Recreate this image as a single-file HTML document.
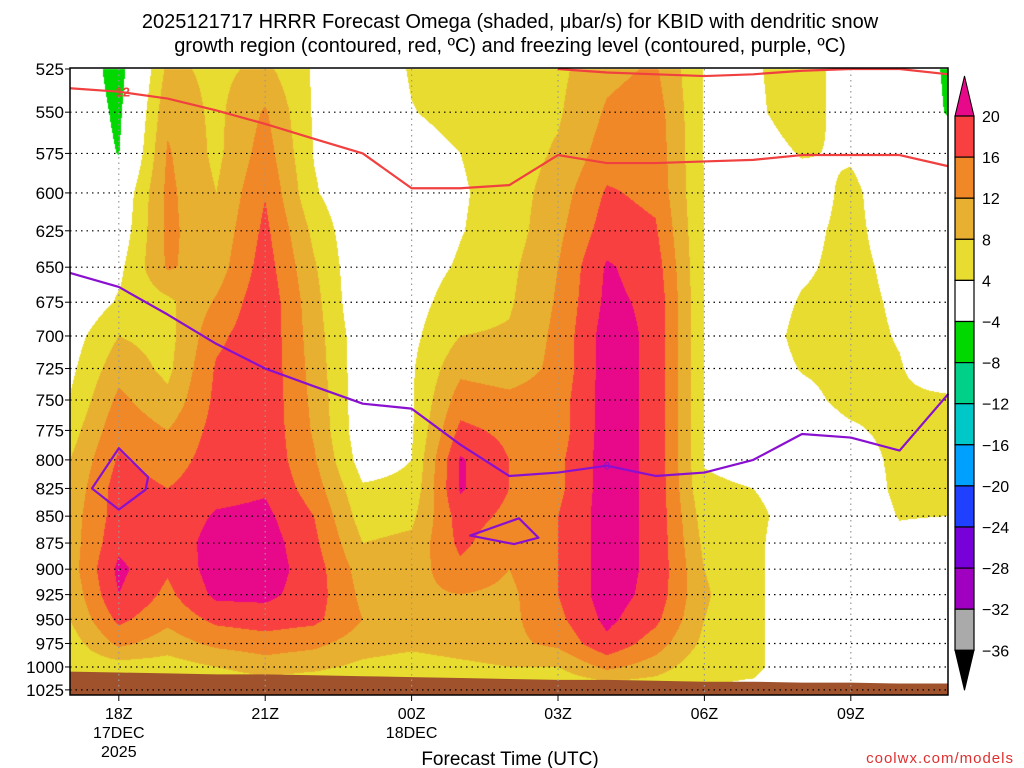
<!DOCTYPE html>
<html><head><meta charset="utf-8">
<style>
html,body{margin:0;padding:0;background:#fff;width:1024px;height:768px;overflow:hidden}
#wrap{position:relative;width:1024px;height:768px}
canvas{position:absolute;left:0;top:0}
svg{position:absolute;left:0;top:0}
text{font-family:"Liberation Sans",sans-serif}
</style></head>
<body>
<div id="wrap">
<canvas id="field" width="1024" height="768"></canvas>
<svg id="ov" width="1024" height="768"></svg>
</div>
<script>
// hours since 17Z, columns; values at levels 525..1025 step 25 (microbar/s)
const levels=[525,550,575,600,625,650,675,700,725,750,775,800,825,850,875,900,925,950,975,1000,1025];
const omega=[
[0,0,0,0,0,0,0,2,3,4.2,6,8,9,10,10,10,9,8,6,5,3],
[-6,-5,-4.2,0,1,3,4.5,8,10.5,13,15,16.5,18,18,19,21,20,17,13,6,3],
[9,11,12.5,13,13,12.5,7,6.5,7,9,12,14,16,17,17,16.5,15,13,10,6,4],
[7,7,7,8,9,10,12.5,15,16.5,17,17.5,18,18.5,20.5,22,22,21,17,13,8,4],
[9,12.5,14,15.8,17,18,19,19,19,19,19,19,19.5,21,22,22,21,18,14,10,5],
[3.5,3.5,3.8,4.5,7,8.5,9.5,10,10.5,11,11.5,12.5,14,16,17,18,18,17,13,9,4],
[0,0,0,0,0,0,0,1,1,1,1,2,4.5,6,8,10,11,12,10,7,4],
[4.5,3.8,2,1,1,2,2.5,3,3.5,3.5,3.5,4,5,7,9,10,11,11,9,6,4],
[6,5.5,4,3.5,3.8,4.5,6,8,11,14,17,20.5,20.5,18,17,15,12,11,10,7,4],
[7,7,6,6,6,7,7.5,8.5,10,13,15,16,16,15,13,12,11,11,11,8,4],
[7,7.5,8.5,10,11,12,12.5,13,13,14,14,15,15,16,16,16,16,15,13,8,4],
[11,12.5,14,16.5,18,20.5,21,22,22,22,22,22,22,22,22,22,22,21,19,13,5],
[12.5,14,14.5,15,16.5,18,19,19,19,19,19,19,19,19,19,19,18.5,17,14,10,5],
[3.8,3.8,3.8,3.8,3.8,3.8,3.8,3.8,3.8,3.8,3.8,3.8,4.5,6,7,8,8.5,8,7,5,4],
[3.5,3.2,2,2,2,2,2,2,2,2,3,3,4,5,5,5,5,5,5,5,3],
[6,6,4.3,2,3,3.5,4.3,5,4.2,3,2,2,2,2,1,1,1,1,1,1,1],
[2,2,3.5,5,5,5,5,5,5,5,3.5,2,1,1,1,1,1,1,1,1,1],
[1,1,1,1,2,3,3.5,3.8,4.2,4.5,5,5,5,4.2,3,1,1,1,1,1,1],
[-5,-4.5,0,1,1,1,1,1,2,4.5,5,5,5,4,2,1,1,1,1,1,1]
];
const hours=[0,1,2,3,4,5,6,7,8,9,10,11,12,13,14,15,16,17,18];
const dgzP=[536,538,542,549,557,566,575,597,597,595,576,581,581,580,579,576,576,576,583];
const dgzTopH=[10,11,12,13,14,15,16,17,18];
const dgzTopP=[525,527,528,529,528,526,525,525,528];
const frzP=[654,664,684,706,725,739,753,757,787,814,811,805,814,811,800,778,781,792,745];
const loop1H=[0.45,1,1.6,1.55,1,0.45], loop1P=[825,790,815,826,844,825];
const loop2H=[8.2,9.2,9.6,9.1,8.2], loop2P=[868,852,870,876,868];
const sfcP=[1005,1006,1007,1008,1008,1009,1010,1011,1012,1013,1014,1014,1015,1016,1016,1017,1017,1018,1018];
const yTicks=[525,550,575,600,625,650,675,700,725,750,775,800,825,850,875,900,925,950,975,1000,1025];
const xTickH=[1,4,7,10,13,16];
const xTickLab=["18Z","21Z","00Z","03Z","06Z","09Z"];
const cbLabels=["20","16","12","8","4","\u22124","\u22128","\u221212","\u221216","\u221220","\u221224","\u221228","\u221232","\u221236"];
const cbColors=["#f84040","#f08828","#e8b030","#e8dc30","#ffffff","#00d800","#00d088","#00c8c8","#00a0ff","#2040ff","#7800d8","#a000c0","#aaaaaa"];

const X0=70,X1=948,Y0=69,Y1=695,PXH=48.8,PXL=928;
function xs(h){return X0+h*PXH;}
function ys(p){return Y0+Math.log(p/525)*PXL;}
function colorFor(v){
 if(v>=20)return[232,8,138];if(v>=16)return[248,64,64];if(v>=12)return[240,136,40];
 if(v>=8)return[232,176,48];if(v>=4)return[232,220,48];if(v>-4)return[255,255,255];
 if(v>-8)return[0,216,0];return[0,208,136];}
// field
(function(){
 const c=document.getElementById('field'),ctx=c.getContext('2d');
 const w=X1-X0,h=Y1-Y0;const img=ctx.createImageData(w,h);
 for(let j=0;j<h;j++){const p=525*Math.exp((j+0.5)/PXL);let li=(p-525)/25;li=Math.max(0,Math.min(19.999,li));
  const l0=Math.floor(li),fl=li-l0;
  for(let i=0;i<w;i++){let hh=(i+0.5)/PXH;hh=Math.max(0,Math.min(17.999,hh));const h0=Math.floor(hh),fh=hh-h0;
   const v=(omega[h0][l0]*(1-fh)+omega[h0+1][l0]*fh)*(1-fl)+(omega[h0][l0+1]*(1-fh)+omega[h0+1][l0+1]*fh)*fl;
   const col=colorFor(v);const k=(j*w+i)*4;img.data[k]=col[0];img.data[k+1]=col[1];img.data[k+2]=col[2];img.data[k+3]=255;}}
 ctx.putImageData(img,X0,Y0);
})();
const NS="http://www.w3.org/2000/svg",ov=document.getElementById('ov');
function mk(t,a,parent){const e=document.createElementNS(NS,t);for(const k in a)e.setAttribute(k,a[k]);(parent||ov).appendChild(e);return e;}
// ground
{let d="M"+xs(0)+","+ys(sfcP[0]);hours.forEach((h,i)=>{d+=" L"+xs(h)+","+ys(sfcP[i]);});d+=" L"+X1+","+Y1+" L"+X0+","+Y1+"Z";
 const g=mk('path',{d:d,fill:'#a0522d'});
 
 }
// grid
yTicks.forEach(p=>{const y=ys(p);if(y>Y0+2&&y<Y1-2){const l=mk('line',{x1:X0,x2:X1,y1:y,y2:y,stroke:'#000','stroke-width':1.2,'stroke-dasharray':'1.5,4'});
 
 }});
xTickH.forEach(h=>{const l=mk('line',{x1:xs(h),x2:xs(h),y1:Y0,y2:Y1,stroke:'#999','stroke-width':1.2,'stroke-dasharray':'1.5,4'});
 
 });
// lines
function poly(H,P,col,name,close){let d="";H.forEach((h,i)=>{d+=(i?" L":"M")+xs(h)+","+ys(P[i]);});if(close)d+="Z";
 const e=mk('path',{d:d,fill:'none',stroke:col,'stroke-width':2.2,'stroke-linejoin':'round'});
 
 return e;}
poly(hours,dgzP,'#f04040','dgz-minus12-contour');
poly(dgzTopH,dgzTopP,'#f04040','dgz-upper-contour');
poly(hours,frzP,'#8a10d0','freezing-level-contour');
poly(loop1H,loop1P,'#8a10d0','freezing-loop-left',true);
poly(loop2H,loop2P,'#8a10d0','freezing-loop-center',true);
{const t=mk('text',{x:xs(1)+4,y:ys(dgzP[1])+5,'font-size':13,'font-weight':'bold',fill:'#f04040','text-anchor':'middle'});t.textContent='12';
 
 }
{const t=mk('text',{x:xs(11),y:ys(frzP[11])+4,'font-size':11,fill:'#8a10d0','text-anchor':'middle'});t.textContent='0';
 
 }
// frame
{const r=mk('rect',{x:X0,y:Y0-1,width:X1-X0,height:Y1-Y0+1,fill:'none',stroke:'#000','stroke-width':1.5});
 
 }
// y ticks
yTicks.forEach(p=>{const y=ys(p);mk('line',{x1:X0-5,x2:X0,y1:y,y2:y,stroke:'#000'});
 const t=mk('text',{x:X0-6,y:y+6,'font-size':17,'text-anchor':'end',fill:'#000'});t.textContent=p;
 
 });
xTickH.forEach((h,i)=>{const x=xs(h);mk('line',{x1:x,x2:x,y1:Y1,y2:Y1+6,stroke:'#000'});
 const t=mk('text',{x:x,y:719,'font-size':16,'text-anchor':'middle',fill:'#000'});t.textContent=xTickLab[i];
 
 });
[["17DEC",1,738],["2025",1,757],["18DEC",7,738]].forEach(a=>{const t=mk('text',{x:xs(a[1]),y:a[2],'font-size':16,'text-anchor':'middle',fill:'#000'});t.textContent=a[0];
 
 });
{const t=mk('text',{x:510,y:765,'font-size':19,'text-anchor':'middle',fill:'#000'});t.textContent='Forecast Time (UTC)';
 
 }
{const t=mk('text',{x:1014,y:763,'font-size':15,'text-anchor':'end',fill:'#e03030','letter-spacing':'1'});t.textContent='coolwx.com/models';
 
 }
["2025121717 HRRR Forecast Omega (shaded, \u03bcbar/s) for KBID with dendritic snow","growth region (contoured, red, \u00baC) and freezing level (contoured, purple, \u00baC)"].forEach((s,i)=>{
 const t=mk('text',{x:510,y:28+i*24,'font-size':20,'text-anchor':'middle',fill:'#000'});t.textContent=s;
 
 });
// colorbar
const CBX=955,CBW=19,CBT=116,CBS=41.1;
{const tri=mk('path',{d:`M${CBX},${CBT} L${CBX+CBW/2},${CBT-40} L${CBX+CBW},${CBT}Z`,fill:'#e8088a',stroke:'#000'});
 
 }
cbColors.forEach((c,i)=>{const r=mk('rect',{x:CBX,y:CBT+i*CBS,width:CBW,height:CBS,fill:c,stroke:'#000','stroke-width':1.2});
 
 });
{const yb=CBT+cbColors.length*CBS;const tri=mk('path',{d:`M${CBX},${yb} L${CBX+CBW/2},${yb+40} L${CBX+CBW},${yb}Z`,fill:'#000',stroke:'#000'});
 
 }
cbLabels.forEach((s,i)=>{const t=mk('text',{x:982,y:CBT+i*CBS+6,'font-size':16,fill:'#000'});t.textContent=s;
 
 });
</script>
</body></html>
